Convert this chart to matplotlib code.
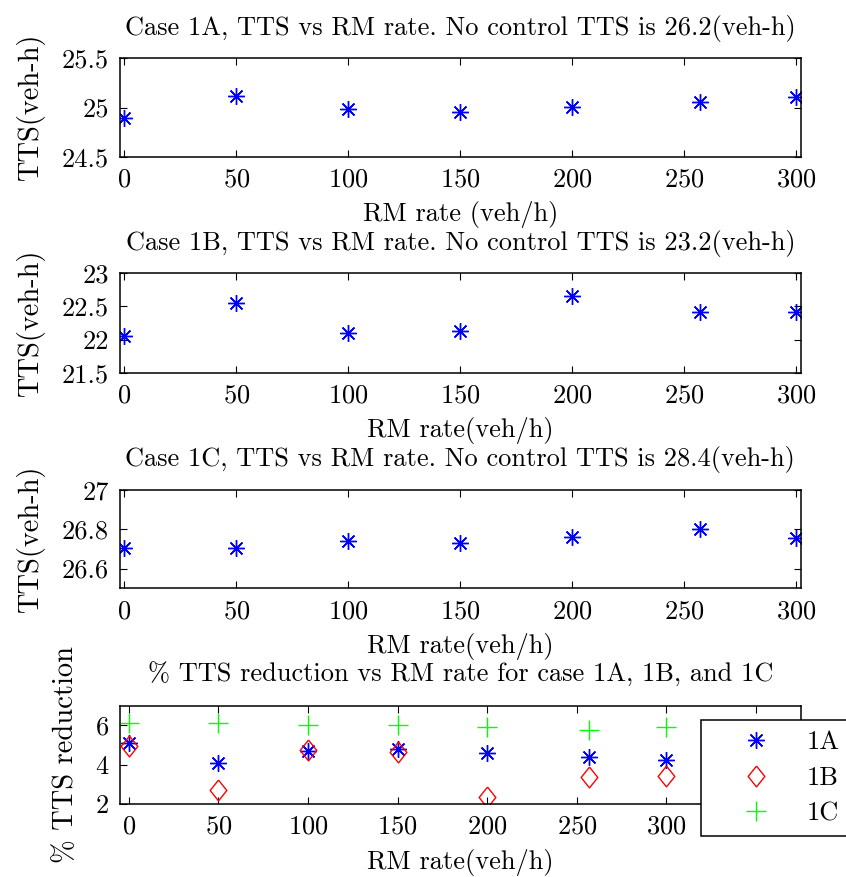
import matplotlib
matplotlib.use('Agg')
import matplotlib.pyplot as plt
from matplotlib.ticker import FormatStrFormatter

plt.rcParams['font.family'] = ['cmr10', 'DejaVu Serif']
plt.rcParams['axes.formatter.use_mathtext'] = True
plt.rcParams['font.size'] = 19

rm_rate = [0, 50, 100, 150, 200, 257, 300]

tts_1a = [24.89, 25.115, 24.99, 24.95, 25.01, 25.054, 25.104]
tts_1b = [22.055, 22.55, 22.10, 22.127, 22.65, 22.414, 22.41]
tts_1c = [26.703, 26.706, 26.74, 26.731, 26.762, 26.80, 26.757]

red_1a = [5.09, 4.10, 4.71, 4.79, 4.59, 4.41, 4.22]
red_1b = [4.97, 2.72, 4.74, 4.66, 2.38, 3.38, 3.45]
red_1c = [6.12, 6.14, 6.03, 6.03, 5.91, 5.79, 5.91]

titles = ['Case 1A, TTS vs RM rate. No control TTS is 26.2(veh-h)',
          'Case 1B, TTS vs RM rate. No control TTS is 23.2(veh-h)',
          'Case 1C, TTS vs RM rate. No control TTS is 28.4(veh-h)',
          '% TTS reduction vs RM rate for case 1A, 1B, and 1C']
xlabels = ['RM rate (veh/h)', 'RM rate(veh/h)', 'RM rate(veh/h)', 'RM rate(veh/h)']

ASTERISK = (8, 2, 0)
DIAMOND = [(0, 1), (0.8, 0), (0, -1), (-0.8, 0), (0, 1)]

fig = plt.figure(figsize=(8.46, 8.77), dpi=100)

rects = [[0.1418, 0.8213, 0.8047, 0.1122],
         [0.1418, 0.5750, 0.8047, 0.1134],
         [0.1418, 0.3292, 0.8047, 0.1121],
         [0.1418, 0.0832, 0.8047, 0.1121]]
axes = [fig.add_axes(r) for r in rects]


def style(ax, title, xlabel, ylabel):
    ax.set_title(title, pad=17, fontsize=19)
    ax.set_xlabel(xlabel, labelpad=7)
    ax.set_ylabel(ylabel, labelpad=12, fontsize=20.5)
    ax.tick_params(direction='in', top=True, right=True, length=5, width=0.8, pad=8)
    for s in ax.spines.values():
        s.set_linewidth(1.1)
    ax.yaxis.set_major_formatter(FormatStrFormatter('%g'))


ax1, ax2, ax3, ax4 = axes

ax1.plot(rm_rate, tts_1a, linestyle='none', marker=ASTERISK, ms=12, mew=1, color='b')
ax1.set_xlim(-2, 302)
ax1.set_ylim(24.5, 25.5)
ax1.set_yticks([24.5, 25, 25.5])

ax2.plot(rm_rate, tts_1b, linestyle='none', marker=ASTERISK, ms=12, mew=1, color='b')
ax2.set_xlim(-2, 302)
ax2.set_ylim(21.5, 23)
ax2.set_yticks([21.5, 22, 22.5, 23])

ax3.plot(rm_rate, tts_1c, linestyle='none', marker=ASTERISK, ms=12, mew=1, color='b')
ax3.set_xlim(-2, 302)
ax3.set_ylim(26.5, 27)
ax3.set_yticks([26.6, 26.8, 27])

for ax in (ax1, ax2, ax3):
    ax.set_xticks([0, 50, 100, 150, 200, 250, 300])

ax4.plot(rm_rate, red_1a, linestyle='none', marker=ASTERISK, ms=12, mew=1, color='b', label='1A')
ax4.plot(rm_rate, red_1b, linestyle='none', marker=DIAMOND, ms=15, mew=1, mfc='none', color='r', label='1B')
ax4.plot(rm_rate, red_1c, linestyle='none', marker='+', ms=15, mew=1, color=(0, 1, 0), label='1C')
ax4.set_xlim(-5, 375)
ax4.set_ylim(2, 7)
ax4.set_xticks([0, 50, 100, 150, 200, 250, 300, 350])
ax4.set_yticks([2, 4, 6])

for i, ax in enumerate(axes):
    style(ax, titles[i], xlabels[i], 'TTS(veh-h)' if i < 3 else '% TTS reduction')

leg = ax4.legend(loc='upper left', bbox_to_anchor=(0.8286, 0.179), bbox_transform=fig.transFigure,
                 borderaxespad=0, borderpad=0.4, handlelength=3.4, handletextpad=0.19,
                 labelspacing=0.45, fancybox=False, framealpha=1, edgecolor='k', fontsize=19)
leg.get_frame().set_linewidth(1.1)
leg.set_zorder(10)

fig.savefig('out.png', dpi=100)
